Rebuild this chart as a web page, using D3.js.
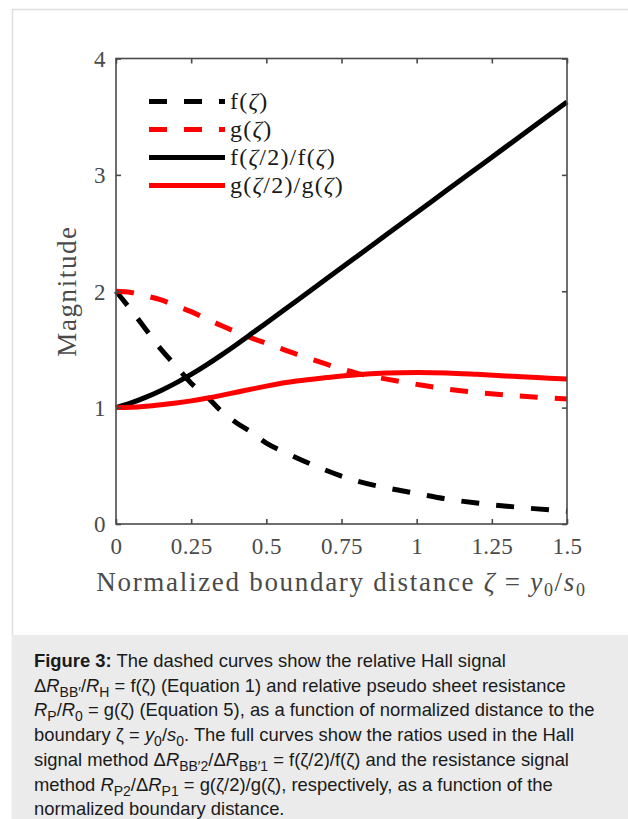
<!DOCTYPE html>
<html>
<head>
<meta charset="utf-8">
<script src="https://cdn.jsdelivr.net/npm/d3@7/dist/d3.min.js"></script>
<style>
html,body{margin:0;padding:0;background:#fff;}
svg{display:block;}
</style>
</head>
<body>
<svg id="chart" width="628" height="819"></svg>
<script>
// ---- data ----
const zeta   = [0,0.05,0.1,0.15,0.2,0.25,0.3,0.35,0.4,0.45,0.5,0.6,0.7,0.8,0.9,1.0,1.1,1.2,1.3,1.4,1.5];
const fVals  = [2.0,1.84,1.67,1.50,1.355,1.21,1.10,0.97,0.87,0.79,0.695,0.57,0.46,0.37,0.31,0.263,0.215,0.18,0.153,0.13,0.11];
const gVals  = [2.0,1.99,1.96,1.925,1.875,1.825,1.765,1.705,1.65,1.60,1.553,1.46,1.373,1.297,1.245,1.20,1.16,1.131,1.108,1.09,1.075];
const fRatio = [1.0,1.04,1.09,1.148,1.213,1.285,1.365,1.451,1.541,1.634,1.728,1.917,2.107,2.297,2.487,2.677,2.867,3.057,3.247,3.437,3.627];
const gRatio = [1.0,1.003,1.012,1.025,1.04,1.058,1.08,1.105,1.132,1.159,1.185,1.228,1.258,1.283,1.297,1.302,1.298,1.286,1.272,1.258,1.245];
const xTicks = [0,0.25,0.5,0.75,1,1.25,1.5];
const xTickLabels = ["0","0.25","0.5","0.75","1","1.25","1.5"];
const yTicks = [0,1,2,3,4];
const yTickLabels = ["0","1","2","3","4"];

const svg = d3.select("#chart");
const serif = "'Liberation Serif', 'DejaVu Serif', serif";
const sans = "'Liberation Sans', Arial, sans-serif";
const axisColor = "#4a4a4a";

// frame
svg.append("path").attr("d","M12.5,819 L12.5,9.5 L628,9.5")
  .attr("fill","none").attr("stroke","#dedede").attr("stroke-width",1.5);

const X0 = 116, X1 = 567, Y0 = 524, Y1 = 58.5;
const x = d3.scaleLinear().domain([0,1.5]).range([X0,X1]);
const y = d3.scaleLinear().domain([0,4]).range([Y0,Y1]);

const series = [
  {key:"f",  vals:fVals,  color:"#000", dash:"18,17"},
  {key:"g",  vals:gVals,  color:"#ff0000", dash:"18,17"},
  {key:"fr", vals:fRatio, color:"#000", dash:null},
  {key:"gr", vals:gRatio, color:"#ff0000", dash:null}
];

const line = d3.line().x(d=>x(d[0])).y(d=>y(d[1])).curve(d3.curveCatmullRom.alpha(0.5));
const plot = svg.append("g");
series.forEach(s=>{
  const p = plot.append("path")
    .datum(zeta.map((z,i)=>[z,s.vals[i]]))
    .attr("d",line).attr("fill","none")
    .attr("stroke",s.color).attr("stroke-width",5)
    .attr("stroke-linecap","butt").attr("stroke-linejoin","round");
  if (s.dash) p.attr("stroke-dasharray",s.dash);
});

// axes (box with inward ticks on all four sides)
const tickLen = 5;
const axB = svg.append("g").attr("transform",`translate(0,${Y0})`)
  .call(d3.axisBottom(x).tickValues(xTicks).tickSize(-tickLen).tickFormat((d,i)=>xTickLabels[i]).tickPadding(14));
const axT = svg.append("g").attr("transform",`translate(0,${Y1})`)
  .call(d3.axisTop(x).tickValues(xTicks).tickSize(-tickLen).tickFormat(""));
const axL = svg.append("g").attr("transform",`translate(${X0},0)`)
  .call(d3.axisLeft(y).tickValues(yTicks).tickSize(-tickLen).tickFormat((d,i)=>yTickLabels[i]).tickPadding(10));
const axR = svg.append("g").attr("transform",`translate(${X1},0)`)
  .call(d3.axisRight(y).tickValues(yTicks).tickSize(-tickLen).tickFormat(""));
[axB,axT,axL,axR].forEach(a=>{
  a.select(".domain").remove();
  a.selectAll(".tick line").attr("stroke",axisColor).attr("stroke-width",1.6);
  a.selectAll("text").attr("fill",axisColor).style("font-family",serif)
    .style("font-size","23px").style("letter-spacing","0.4px");
});
svg.append("rect").attr("x",X0).attr("y",Y1).attr("width",X1-X0).attr("height",Y0-Y1)
  .attr("fill","none").attr("stroke",axisColor).attr("stroke-width",1.6);
axB.selectAll("text").attr("dy","0.71em");
axL.selectAll("text").attr("dy","0.34em");

// axis titles
const xt = svg.append("text").attr("x",(X0+X1)/2).attr("y",591).attr("text-anchor","middle")
  .attr("fill",axisColor).style("font-family",serif).style("font-size","27px").style("letter-spacing","1.7px");
xt.append("tspan").text("Normalized boundary distance ");
xt.append("tspan").style("font-style","italic").text("ζ");
xt.append("tspan").text(" = ");
xt.append("tspan").style("font-style","italic").text("y");
xt.append("tspan").attr("dy",5).style("font-size","18px").text("0");
xt.append("tspan").attr("dy",-5).text("/");
xt.append("tspan").style("font-style","italic").text("s");
xt.append("tspan").attr("dy",5).style("font-size","18px").text("0");

svg.append("text").attr("transform","translate(76,291) rotate(-90)").attr("text-anchor","middle")
  .attr("fill",axisColor).style("font-family",serif).style("font-size","27px")
  .style("letter-spacing","1.6px").text("Magnitude");

// legend
const legRows = [
  {s:series[0], parts:[["f",0],["(",0],["ζ",1],[")",0]]},
  {s:series[1], parts:[["g",0],["(",0],["ζ",1],[")",0]]},
  {s:series[2], parts:[["f",0],["(",0],["ζ",1],["/2)/f(",0],["ζ",1],[")",0]]},
  {s:series[3], parts:[["g",0],["(",0],["ζ",1],["/2)/g(",0],["ζ",1],[")",0]]}
];
legRows.forEach((r,i)=>{
  const yy = 101.5 + i*28;
  const l = svg.append("line").attr("x1",149).attr("x2",225).attr("y1",yy).attr("y2",yy)
    .attr("stroke",r.s.color).attr("stroke-width",5);
  if (r.s.dash) l.attr("stroke-dasharray",r.s.dash);
  const t = svg.append("text").attr("x",230).attr("y",yy+7).attr("fill","#1a1a1a")
    .style("font-family",serif).style("font-size","24px").style("letter-spacing","1.2px");
  r.parts.forEach(p=>t.append("tspan").style("font-style",p[1]?"italic":"normal").text(p[0]));
});

// caption box
svg.append("rect").attr("x",12).attr("y",635).attr("width",616).attr("height",184).attr("fill","#ebebeb");
const capLines = [
  [["Figure 3:","b"],[" The dashed curves show the relative Hall signal",""]],
  [["Δ",""],["R","i"],["BB′","s"],["/",""],["R","i"],["H","s"],[" = f(ζ) (Equation 1) and relative pseudo sheet resistance",""]],
  [["R","i"],["P","s"],["/",""],["R","i"],["0","s"],[" = g(ζ) (Equation 5), as a function of normalized distance to the",""]],
  [["boundary ζ = ",""],["y","i"],["0","s"],["/",""],["s","i"],["0","s"],[". The full curves show the ratios used in the Hall",""]],
  [["signal method Δ",""],["R","i"],["BB′2","s"],["/Δ",""],["R","i"],["BB′1","s"],[" = f(ζ/2)/f(ζ) and the resistance signal",""]],
  [["method ",""],["R","i"],["P2","s"],["/Δ",""],["R","i"],["P1","s"],[" = g(ζ/2)/g(ζ), respectively, as a function of the",""]],
  [["normalized boundary distance.",""]]
];
capLines.forEach((ln,i)=>{
  const t = svg.append("text").attr("x",34).attr("y",667+i*24.7).attr("fill","#1a1a1a")
    .style("font-family",sans).style("font-size","18.4px");
  let sub = false;
  ln.forEach(p=>{
    const ts = t.append("tspan").text(p[0]);
    if (p[1]==="b") ts.style("font-weight","bold");
    if (p[1]==="i") ts.style("font-style","italic");
    if (p[1]==="s") { ts.attr("dy", sub?0:5).style("font-size","14px"); sub = true; }
    else if (sub) { ts.attr("dy",-5); sub = false; }
  });
});
</script>
</body>
</html>
